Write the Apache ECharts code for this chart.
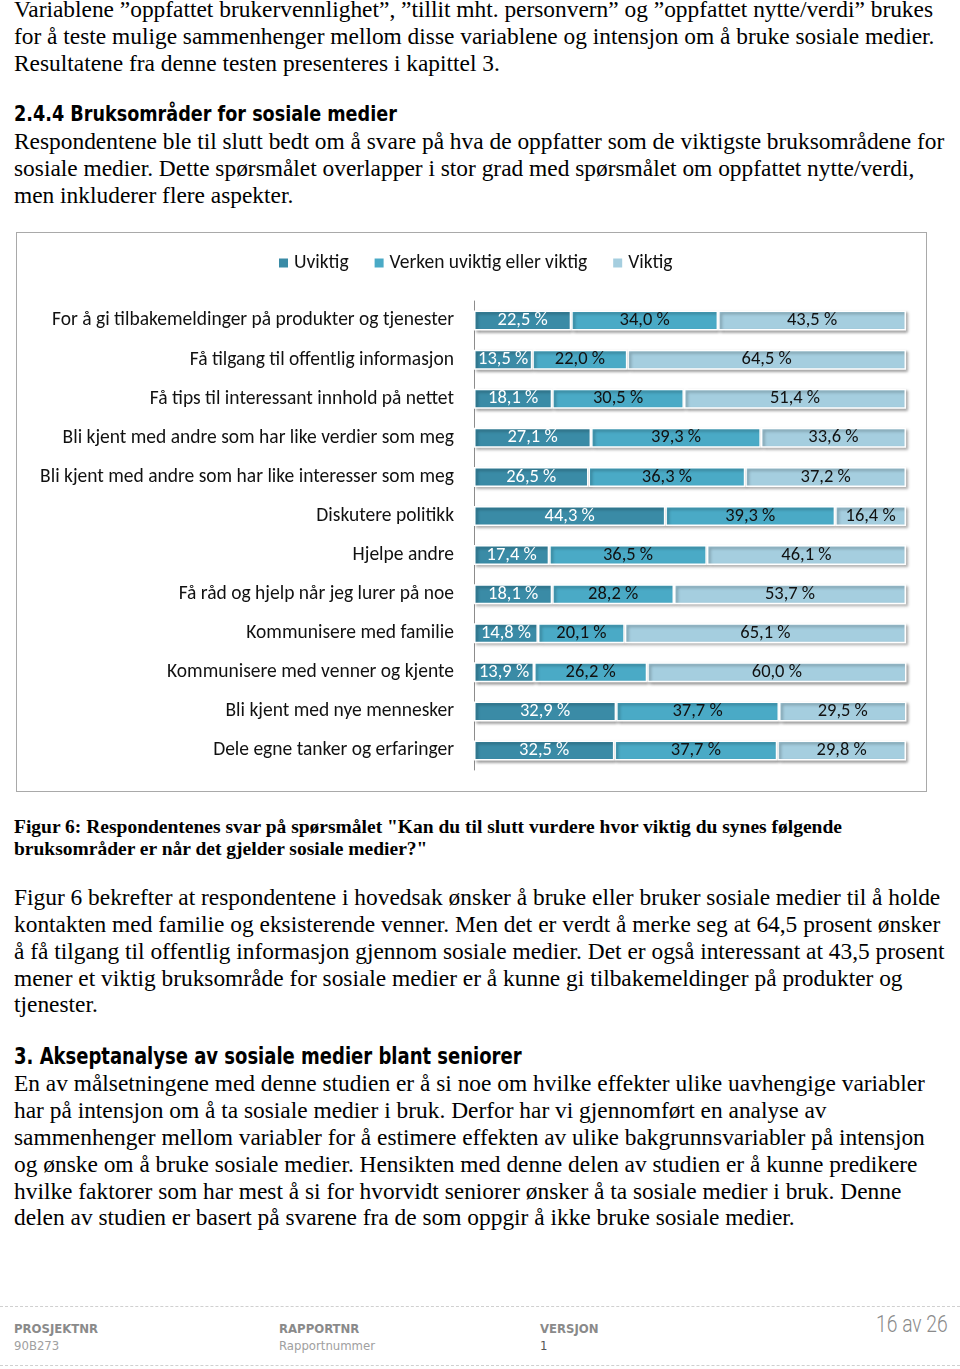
<!DOCTYPE html>
<html>
<head>
<meta charset="utf-8">
<script src="https://cdn.jsdelivr.net/npm/echarts@6/dist/echarts.min.js"></script>
<style>
html,body{margin:0;padding:0;background:#fff;width:960px;height:1369px;overflow:hidden;position:relative;}
.t{position:absolute;left:14px;white-space:nowrap;font-family:"Liberation Serif","Times New Roman",serif;font-size:23.4px;line-height:27px;color:#000;transform-origin:0 50%;}
.h{position:absolute;left:14px;white-space:nowrap;font-family:"DejaVu Sans Condensed","DejaVu Sans",sans-serif;font-weight:bold;color:#000;transform-origin:0 50%;}
.cap{position:absolute;left:14px;white-space:nowrap;font-family:"Liberation Serif",serif;font-weight:bold;font-size:19.5px;line-height:22px;color:#000;transform-origin:0 50%;}
.f{position:absolute;white-space:nowrap;font-family:"DejaVu Sans Condensed","DejaVu Sans",sans-serif;color:#8a8a8a;}
.dot{position:absolute;left:0;width:960px;border-top:1px dashed #d0d0d0;height:0;}
#chart{position:absolute;left:16px;top:232px;width:909px;height:558px;border:1px solid #a9a9a9;}
</style>
</head>
<body>
<div class="t" style="top:-4px">Variablene ”oppfattet brukervennlighet”, ”tillit mht. personvern” og ”oppfattet nytte/verdi” brukes</div>
<div class="t" style="top:23px">for å teste mulige sammenhenger mellom disse variablene og intensjon om å bruke sosiale medier.</div>
<div class="t" style="top:50px">Resultatene fra denne testen presenteres i kapittel 3.</div>
<div class="h" style="top:100px;font-size:22px;line-height:28px;transform:scaleX(0.89)">2.4.4 Bruksområder for sosiale medier</div>
<div class="t" style="top:128px">Respondentene ble til slutt bedt om å svare på hva de oppfatter som de viktigste bruksområdene for</div>
<div class="t" style="top:155px">sosiale medier. Dette spørsmålet overlapper i stor grad med spørsmålet om oppfattet nytte/verdi,</div>
<div class="t" style="top:182px">men inkluderer flere aspekter.</div>

<div id="chart"></div>

<div class="cap" style="top:816px">Figur 6: Respondentenes svar på spørsmålet "Kan du til slutt vurdere hvor viktig du synes følgende</div>
<div class="cap" style="top:838px">bruksområder er når det gjelder sosiale medier?"</div>

<div class="t" style="top:884px">Figur 6 bekrefter at respondentene i hovedsak ønsker å bruke eller bruker sosiale medier til å holde</div>
<div class="t" style="top:911px">kontakten med familie og eksisterende venner. Men det er verdt å merke seg at 64,5 prosent ønsker</div>
<div class="t" style="top:938px">å få tilgang til offentlig informasjon gjennom sosiale medier. Det er også interessant at 43,5 prosent</div>
<div class="t" style="top:965px">mener et viktig bruksområde for sosiale medier er å kunne gi tilbakemeldinger på produkter og</div>
<div class="t" style="top:991px">tjenester.</div>

<div class="h" style="top:1042px;font-size:23px;line-height:28px;transform:scaleX(0.87)">3. Akseptanalyse av sosiale medier blant seniorer</div>
<div class="t" style="top:1070px">En av målsetningene med denne studien er å si noe om hvilke effekter ulike uavhengige variabler</div>
<div class="t" style="top:1097px">har på intensjon om å ta sosiale medier i bruk. Derfor har vi gjennomført en analyse av</div>
<div class="t" style="top:1124px">sammenhenger mellom variabler for å estimere effekten av ulike bakgrunnsvariabler på intensjon</div>
<div class="t" style="top:1151px">og ønske om å bruke sosiale medier. Hensikten med denne delen av studien er å kunne predikere</div>
<div class="t" style="top:1178px">hvilke faktorer som har mest å si for hvorvidt seniorer ønsker å ta sosiale medier i bruk. Denne</div>
<div class="t" style="top:1204px">delen av studien er basert på svarene fra de som oppgir å ikke bruke sosiale medier.</div>

<div class="dot" style="top:1306px"></div>
<div class="dot" style="top:1365px"></div>
<div class="f" style="left:14px;top:1321px;font-size:13px;font-weight:bold">PROSJEKTNR</div>
<div class="f" style="left:14px;top:1338px;font-size:13px;color:#a0a0a0">90B273</div>
<div class="f" style="left:279px;top:1321px;font-size:13px;font-weight:bold">RAPPORTNR</div>
<div class="f" style="left:279px;top:1338px;font-size:13px;color:#a0a0a0">Rapportnummer</div>
<div class="f" style="left:540px;top:1321px;font-size:13px;font-weight:bold">VERSJON</div>
<div class="f" style="left:540px;top:1338px;font-size:13px;color:#555">1</div>
<div class="f" style="left:876px;top:1311px;font-size:23px;color:#8a8a8a;font-family:Roboto,sans-serif;font-weight:300;transform:scaleX(0.84);transform-origin:0 50%">16 av 26</div>

<script>
const categories = [
  "For å gi tilbakemeldinger på produkter og tjenester",
  "Få tilgang til offentlig informasjon",
  "Få tips til interessant innhold på nettet",
  "Bli kjent med andre som har like verdier som meg",
  "Bli kjent med andre som har like interesser som meg",
  "Diskutere politikk",
  "Hjelpe andre",
  "Få råd og hjelp når jeg lurer på noe",
  "Kommunisere med familie",
  "Kommunisere med venner og kjente",
  "Bli kjent med nye mennesker",
  "Dele egne tanker og erfaringer"
];
const uviktig = [22.5, 13.5, 18.1, 27.1, 26.5, 44.3, 17.4, 18.1, 14.8, 13.9, 32.9, 32.5];
const verken  = [34.0, 22.0, 30.5, 39.3, 36.3, 39.3, 36.5, 28.2, 20.1, 26.2, 37.7, 37.7];
const viktig  = [43.5, 64.5, 51.4, 33.6, 37.2, 16.4, 46.1, 53.7, 65.1, 60.0, 29.5, 29.8];
const seriesNames = ["Uviktig", "Verken uviktig eller viktig", "Viktig"];
const colors = ["#3a8ba6", "#4aaac6", "#a5cedf"];
const labelColors = ["#ffffff", "#111111", "#111111"];

const font = "Carlito, 'Open Sans', sans-serif";
const chart = echarts.init(document.getElementById('chart'), null, {renderer: 'canvas'});
const fmt = p => p.value.toFixed(1).replace('.', ',') + ' %';
const mk = (name, data, i) => ({
  name, type: 'bar', stack: 'total', data, barWidth: 20,
  itemStyle: {color: colors[i], borderColor: '#ffffff', borderWidth: 1.5,
    shadowColor: 'rgba(0,0,0,0.35)', shadowBlur: 3, shadowOffsetX: 2, shadowOffsetY: 2},
  label: {show: true, position: 'inside', formatter: fmt, color: labelColors[i],
    fontFamily: font, fontSize: 18.5},
  emphasis: {disabled: true}
});
chart.setOption({
  animation: false,
  color: colors,
  legend: {
    data: seriesNames, top: 15, left: 255, icon: 'rect', itemWidth: 11, itemHeight: 11,
    itemGap: 24, textStyle: {fontFamily: font, fontSize: 19.5, color: '#111'}
  },
  grid: {left: 457, right: 20, top: 68, height: 469},
  xAxis: {type: 'value', min: 0, max: 100, show: false},
  yAxis: {
    type: 'category', data: categories, inverse: true,
    axisLine: {show: true, lineStyle: {color: '#8c8c8c', width: 1}},
    axisTick: {show: false},
    axisLabel: {fontFamily: font, fontSize: 19.5, color: '#111', margin: 20}
  },
  series: [mk(seriesNames[0], uviktig, 0), mk(seriesNames[1], verken, 1), mk(seriesNames[2], viktig, 2)]
});
</script>
</body>
</html>
